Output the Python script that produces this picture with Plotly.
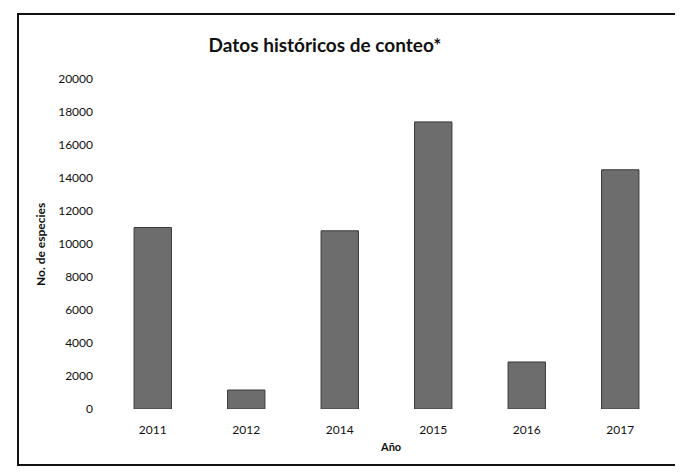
import plotly.graph_objects as go

years = ["2011", "2012", "2014", "2015", "2016", "2017"]
counts = [11000, 1150, 10800, 17400, 2850, 14500]
y_ticks = [0, 2000, 4000, 6000, 8000, 10000, 12000, 14000, 16000, 18000, 20000]

FONT = "Lato, 'Open Sans', sans-serif"

# the page body has an 8px default margin; work in screen coordinates and shift
OFF = 8
W, H = 683 - OFF, 474 - OFF
# target plot area (screen coords)
SX0, SX1, SY0, SY1 = 106, 667, 79, 409
L, R, T, B = SX0 - OFF, W - (SX1 - OFF), SY0 - OFF, H - (SY1 - OFF)
pw, ph = W - L - R, H - T - B


def px(x):
    return (x - OFF - L) / pw


def py(y):
    return (H - B - (y - OFF)) / ph


fig = go.Figure(
    go.Bar(
        x=years,
        y=counts,
        marker=dict(color="#6d6d6d", line=dict(color="#3a3a3a", width=1)),
    )
)

fig.update_layout(
    width=W,
    height=H,
    margin=dict(l=L, r=R, t=T, b=B),
    paper_bgcolor="white",
    plot_bgcolor="white",
    bargap=0.6,
    showlegend=False,
    font=dict(family=FONT, color="#111111", size=12),
    title=dict(
        text="<b>Datos históricos de conteo*</b>",
        x=(325 - OFF) / W,
        xanchor="center",
        y=1 - (45 - OFF) / H,
        yanchor="middle",
        font=dict(family=FONT, size=19, color="#111111"),
    ),
    xaxis=dict(
        type="category",
        showgrid=False,
        showline=False,
        zeroline=False,
        ticks="",
        tickfont=dict(size=12),
        ticklabelstandoff=12,
    ),
    yaxis=dict(
        range=[0, 20000],
        tickvals=y_ticks,
        ticktext=[str(v) for v in y_ticks],
        showgrid=False,
        showline=False,
        zeroline=False,
        ticks="",
        tickfont=dict(size=12),
        ticklabelstandoff=12,
    ),
    annotations=[
        dict(
            text="<b>Año</b>",
            xref="paper",
            yref="paper",
            x=px(390),
            y=py(446),
            xanchor="center",
            yanchor="middle",
            showarrow=False,
            font=dict(family=FONT, size=11, color="#111111"),
        ),
        dict(
            text="<b>No. de especies</b>",
            xref="paper",
            yref="paper",
            x=px(40),
            y=py(245),
            xanchor="center",
            yanchor="middle",
            textangle=-90,
            showarrow=False,
            font=dict(family=FONT, size=12, color="#111111"),
        ),
    ],
    shapes=[
        dict(
            type="rect",
            xref="paper",
            yref="paper",
            x0=px(18),
            x1=px(695),
            y0=py(465),
            y1=py(14),
            line=dict(color="#111111", width=2),
            fillcolor="rgba(0,0,0,0)",
            layer="below",
        )
    ],
)

fig.write_html("out.html")
